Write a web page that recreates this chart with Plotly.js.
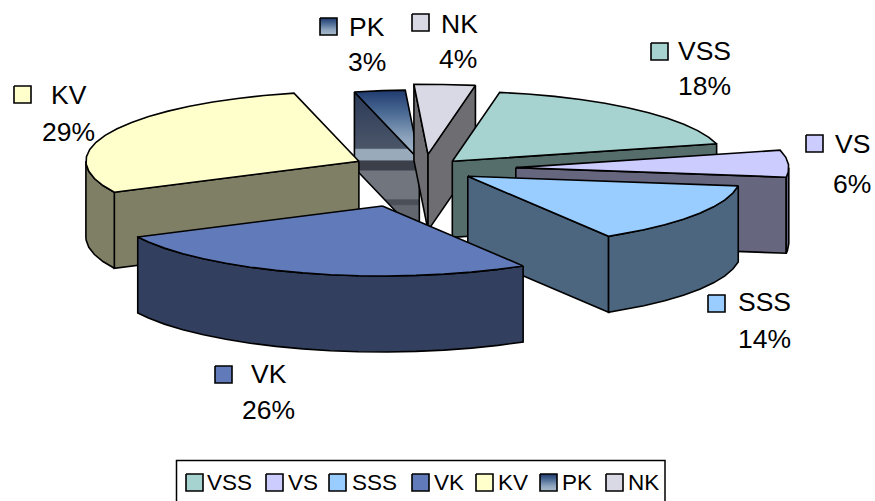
<!DOCTYPE html>
<html><head><meta charset="utf-8">
<script src="https://cdn.plot.ly/plotly-3.0.1.min.js"></script>
<style>html,body{margin:0;padding:0;background:#fff;overflow:hidden}#c{width:875px;height:501px}</style>
</head><body><div id="c"></div>
<script>
// ---- data ----
const categories = ['VSS','VS','SSS','VK','KV','PK','NK'];
const percentLabels = [18,6,14,26,29,3,4];
const values = [18.2,6.2,14.2,26.3,28.5,3.0,3.6];
const explode = [0.15,0.335,0.19,0.55,0.265,0.13,0.21];
// ---- styles ----
const topColors = ['#A6D2CF','#CCCCFF','#99CCFF','#607ABA','#FFFFCC','#5F7BA3','#D9D9E5'];
const sideColors = ['#556D6B','#66667F','#4C667F','#323F5F','#7F7F66','#45526B','#6D6D72'];
const flip = s => s.map(([p,c])=>[1-p,c]).reverse();
const pkTop = flip([[0,'#1F3A6E'],[0.35,'#4F6E97'],[0.7,'#8FA5BE'],[1,'#A9BCCB']]);
const pkSide = flip([[0,'#2C3A58'],[0.39,'#4A5568'],[0.40,'#99AABB'],[0.47,'#99AABB'],[0.48,'#3A3F4A'],[0.54,'#3A3F4A'],[0.55,'#70757E'],[0.74,'#70757E'],[0.75,'#4A4F58'],[0.78,'#4A4F58'],[0.79,'#62676F'],[1,'#62676F']]);
// ---- layout geometry ----
const W=875,H=501, cx=424.5, cy=169, rx=273, ry=70, depth=76, startDeg=-80, stepDeg=6;
const labelPos = {
 VSS:{key:[651,43],name:[704.5,51],pct:[704.5,86]},
 VS:{key:[806,135],name:[852,144],pct:[852,184]},
 SSS:{key:[708,295],name:[764,302],pct:[764,339]},
 VK:{key:[215,366],name:[268.5,374],pct:[268,410]},
 KV:{key:[14,86],name:[68.5,95],pct:[68,132]},
 PK:{key:[320,18],name:[366.5,27],pct:[367,62]},
 NK:{key:[412,14],name:[459,24],pct:[458,59]}
};
const legendKeys=[186,266,329,412,476,540,606], legendText=[208,289,353,435,499,563,629];
const drawOrder=['PK','NK','VSS','KV','VS','SSS','VK'];

const rad=d=>d*Math.PI/180;
const total=values.reduce((a,b)=>a+b,0);
let acc=startDeg;
const slices=categories.map((n,i)=>{
  const t0=acc, t1=acc+values[i]/total*360; acc=t1;
  const m=(t0+t1)/2;
  const ax=cx+explode[i]*rx*Math.cos(rad(m)), ay=cy+explode[i]*ry*Math.sin(rad(m));
  return {n,i,t0,t1,ax,ay};
});
const rim=(s,d)=>[s.ax+rx*Math.cos(rad(d)), s.ay+ry*Math.sin(rad(d))];
function arc(s,a,b){const o=[];for(let d=a;d<b;d+=stepDeg)o.push(rim(s,d));o.push(rim(s,b));return o;}
const traces=[];
function poly(pts,fill,grad){
  const xs=pts.map(p=>p[0]).concat(pts[0][0]), ys=pts.map(p=>p[1]).concat(pts[0][1]);
  const t={type:'scatter',mode:'lines',x:xs,y:ys,fill:'toself',hoverinfo:'skip',showlegend:false,
    line:{color:'#000',width:1.6,shape:'linear'}};
  if(grad){t.fillgradient={type:'vertical',colorscale:grad};}
  else t.fillcolor=fill;
  traces.push(t);
}
const down=p=>[p[0],p[1]+depth];
drawOrder.forEach(n=>{
  const s=slices[categories.indexOf(n)], c=[s.ax,s.ay];
  const top=topColors[s.i], side=sideColors[s.i];
  const g=n==='PK';
  if(Math.cos(rad(s.t0))<0){const e=rim(s,s.t0);poly([c,e,down(e),down(c)],side,g?pkSide:null);}
  if(Math.cos(rad(s.t1))>0){const e=rim(s,s.t1);poly([c,e,down(e),down(c)],side,g?pkSide:null);}
  const a=Math.max(s.t0,0), b=Math.min(s.t1,180);
  if(b>a){const r=arc(s,a,b);poly(r.concat(r.slice().reverse().map(down)),side,g?pkSide:null);}
  poly([c].concat(arc(s,s.t0,s.t1)),top,g?pkTop:null);
});
const anns=[];
const textFont={family:'"Liberation Sans",Arial,sans-serif',size:26.5,color:'#000'};
const legFont={family:'"Liberation Sans",Arial,sans-serif',size:22.5,color:'#000'};
function key(x,y,size,i){
  poly([[x,y],[x+size,y],[x+size,y+size],[x,y+size]],topColors[i],categories[i]==='PK'?pkTop:null);
}
categories.forEach((n,i)=>{
  const p=labelPos[n];
  key(p.key[0],p.key[1],17,i);
  anns.push({x:p.name[0],y:p.name[1],text:n,showarrow:false,xanchor:'center',yanchor:'middle',font:textFont});
  anns.push({x:p.pct[0],y:p.pct[1],text:percentLabels[i]+'%',showarrow:false,xanchor:'center',yanchor:'middle',font:textFont});
  key(legendKeys[i],474,17,i);
  anns.push({x:legendText[i],y:482.5,text:n,showarrow:false,xanchor:'left',yanchor:'middle',font:legFont,xshift:-3});
});
const layout={width:W,height:H,margin:{l:0,r:0,t:0,b:0,pad:0},paper_bgcolor:'#fff',plot_bgcolor:'#fff',
  xaxis:{range:[0,W],visible:false,fixedrange:true},
  yaxis:{range:[H,0],visible:false,fixedrange:true},
  showlegend:false,annotations:anns,
  shapes:[{type:'rect',layer:'below',x0:176.5,x1:665,y0:460.5,y1:520,line:{color:'#000',width:1.5},fillcolor:'#fff'}]};
Plotly.newPlot('c',traces,layout,{displayModeBar:false,staticPlot:true});
</script></body></html>
